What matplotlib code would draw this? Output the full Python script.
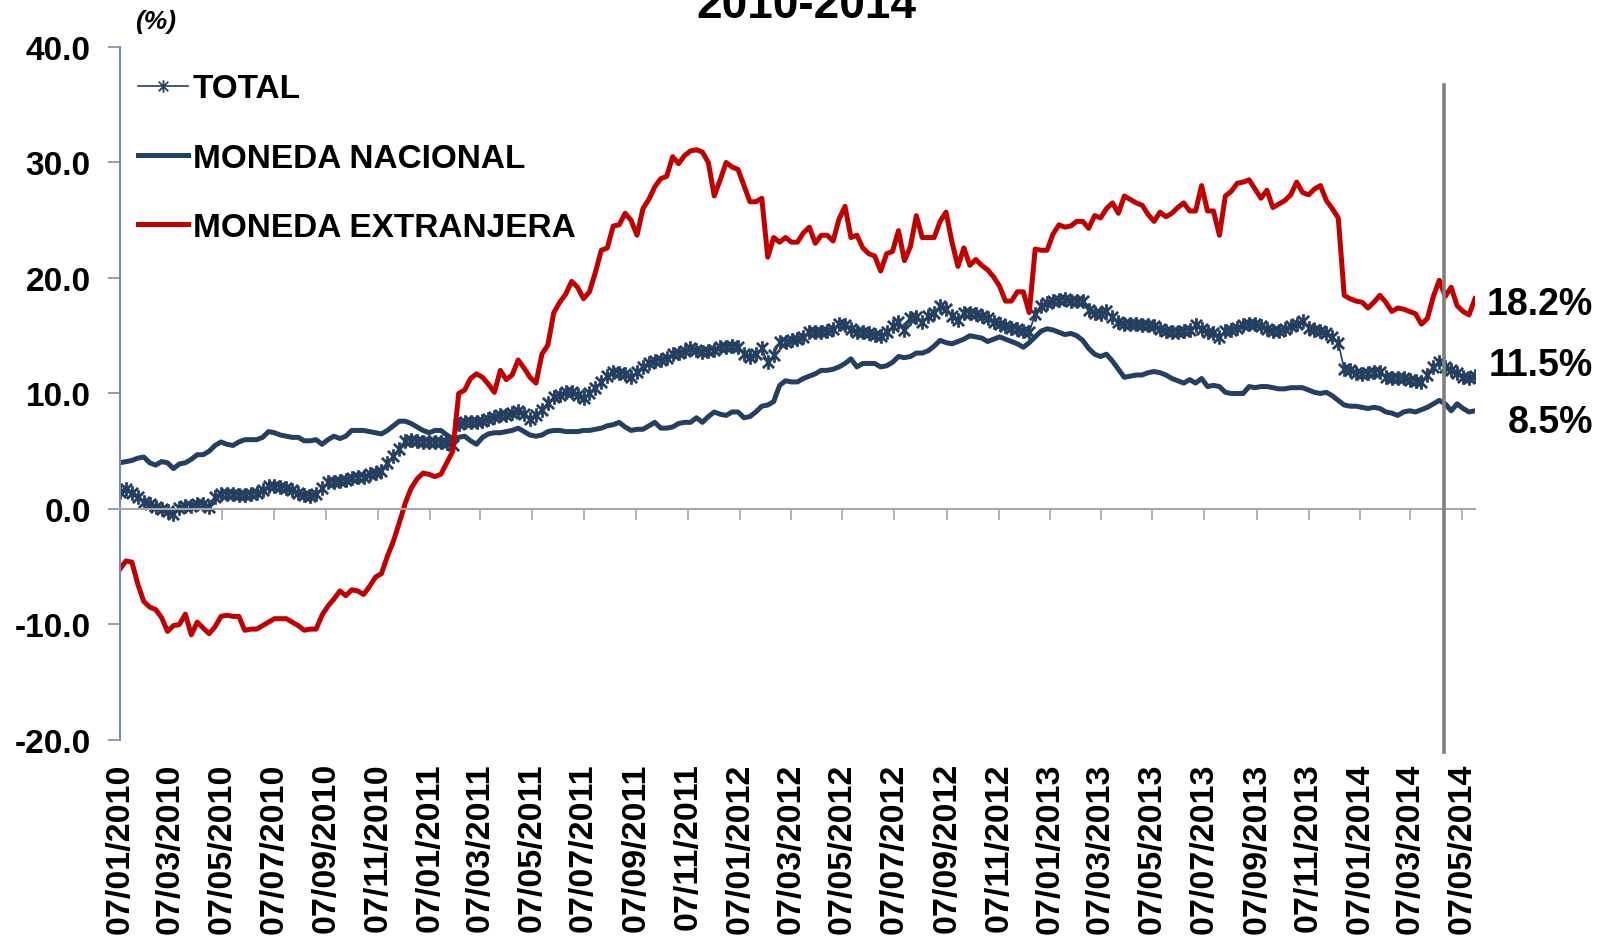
import numpy as np
import pandas as pd
import matplotlib
matplotlib.use("Agg")
import matplotlib.pyplot as plt
import matplotlib.dates as mdates
from matplotlib.path import Path
from matplotlib.lines import Line2D

plt.rcParams['font.family'] = ['Liberation Sans', 'DejaVu Sans']
plt.rcParams['font.weight'] = 'bold'
plt.rcParams['axes.unicode_minus'] = False

# weekly series, 07/01/2010 .. 22/05/2014
fechas = pd.date_range('2010-01-07', periods=229, freq='7D')

total = [
    1.5, 1.7, 1.4, 1.0, 0.6, 0.4, 0.2, 0.0, -0.2, -0.4,
    0.1, 0.3, 0.3, 0.4, 0.4, 0.2, 1.0, 1.3, 1.3, 1.3,
    1.2, 1.2, 1.3, 1.4, 1.6, 2.0, 2.0, 1.9, 1.8, 1.6,
    1.4, 1.2, 1.1, 1.3, 1.8, 2.3, 2.3, 2.4, 2.5, 2.7,
    2.8, 2.8, 3.0, 3.1, 3.3, 4.0, 4.6, 5.2, 5.9, 6.0,
    5.9, 5.8, 5.8, 5.8, 5.8, 5.7, 5.5, 7.4, 7.5, 7.5,
    7.5, 7.6, 7.8, 8.0, 8.1, 8.1, 8.3, 8.5, 8.2, 7.8,
    8.1, 8.6, 9.2, 9.7, 9.9, 10.1, 10.1, 9.9, 9.6, 10.0,
    10.5, 11.0, 11.5, 11.9, 11.8, 11.7, 11.4, 11.9, 12.3, 12.6,
    12.8, 12.9, 13.1, 13.4, 13.5, 13.7, 13.9, 13.8, 13.6, 13.7,
    13.8, 14.0, 14.0, 14.1, 14.0, 13.4, 13.2, 13.4, 13.9, 12.7,
    13.3, 14.5, 14.5, 14.6, 14.7, 14.9, 15.3, 15.3, 15.3, 15.4,
    15.6, 16.0, 15.9, 15.6, 15.3, 15.3, 15.2, 15.1, 15.0, 15.3,
    15.8, 16.2, 15.5, 16.5, 16.6, 16.2, 16.7, 17.0, 17.6, 17.3,
    16.7, 16.4, 17.0, 17.0, 16.9, 16.7, 16.5, 16.2, 16.0, 15.8,
    15.7, 15.6, 15.4, 15.3, 16.9, 17.6, 17.8, 18.0, 18.1, 18.2,
    18.0, 18.0, 18.0, 17.2, 17.0, 16.9, 17.1, 16.6, 16.2, 16.0,
    16.0, 16.0, 15.9, 15.9, 15.8, 15.6, 15.4, 15.3, 15.3, 15.4,
    15.5, 15.9, 15.6, 15.3, 15.2, 14.9, 15.4, 15.5, 15.7, 15.9,
    16.0, 16.0, 15.8, 15.6, 15.4, 15.4, 15.6, 15.8, 16.0, 16.3,
    15.7, 15.5, 15.4, 15.2, 14.9, 14.4, 12.1, 12.0, 11.8, 11.7,
    11.8, 11.9, 11.9, 11.4, 11.3, 11.3, 11.3, 11.2, 11.1, 11.0,
    11.6, 12.3, 12.7, 12.3, 12.0, 11.8, 11.4, 11.3, 11.5,
]

nacional = [
    4.0, 4.1, 4.2, 4.4, 4.5, 4.0, 3.8, 4.1, 4.0, 3.5,
    3.9, 4.0, 4.3, 4.7, 4.7, 5.0, 5.5, 5.8, 5.6, 5.5,
    5.8, 6.0, 6.0, 6.0, 6.2, 6.7, 6.6, 6.4, 6.3, 6.2,
    6.2, 5.9, 5.9, 6.0, 5.6, 6.0, 6.3, 6.1, 6.3, 6.8,
    6.8, 6.8, 6.7, 6.6, 6.5, 6.8, 7.2, 7.6, 7.6, 7.4,
    7.1, 6.8, 6.6, 6.8, 6.8, 6.4, 6.1, 6.2, 6.3, 5.9,
    5.6, 6.2, 6.5, 6.6, 6.6, 6.7, 6.8, 7.0, 6.7, 6.4,
    6.3, 6.4, 6.7, 6.8, 6.8, 6.7, 6.7, 6.7, 6.8, 6.8,
    6.9, 7.0, 7.2, 7.3, 7.5, 7.1, 6.8, 6.9, 6.9, 7.2,
    7.5, 7.0, 7.0, 7.1, 7.4, 7.5, 7.5, 7.9, 7.5, 8.0,
    8.4, 8.2, 8.1, 8.4, 8.4, 7.9, 8.0, 8.4, 8.9, 9.0,
    9.3, 10.7, 11.1, 11.0, 11.0, 11.3, 11.5, 11.7, 12.0, 12.0,
    12.1, 12.3, 12.6, 13.0, 12.3, 12.6, 12.6, 12.6, 12.3, 12.4,
    12.7, 13.2, 13.1, 13.2, 13.5, 13.5, 13.7, 14.1, 14.6, 14.4,
    14.3, 14.5, 14.7, 15.0, 14.9, 14.8, 14.5, 14.7, 14.9, 14.7,
    14.5, 14.3, 14.0, 14.4, 14.9, 15.4, 15.6, 15.5, 15.3, 15.1,
    15.2, 15.0, 14.6, 13.9, 13.4, 13.2, 13.4, 12.8, 12.1, 11.4,
    11.5, 11.6, 11.6, 11.8, 11.9, 11.8, 11.6, 11.3, 11.1, 10.9,
    11.2, 10.9, 11.3, 10.6, 10.7, 10.6, 10.1, 10.0, 10.0, 10.0,
    10.6, 10.5, 10.6, 10.6, 10.5, 10.4, 10.4, 10.5, 10.5, 10.5,
    10.3, 10.1, 10.0, 10.1, 9.8, 9.4, 9.0, 8.9, 8.9, 8.8,
    8.7, 8.8, 8.7, 8.4, 8.3, 8.1, 8.4, 8.5, 8.4, 8.6,
    8.8, 9.1, 9.4, 9.1, 8.5, 9.1, 8.7, 8.4, 8.5,
]

extranjera = [
    -5.2, -4.5, -4.6, -6.5, -8.0, -8.5, -8.7, -9.4, -10.6, -10.1,
    -10.0, -9.1, -10.9, -9.8, -10.3, -10.8, -10.2, -9.3, -9.2, -9.3,
    -9.3, -10.5, -10.4, -10.4, -10.1, -9.8, -9.5, -9.5, -9.5, -9.8,
    -10.1, -10.5, -10.4, -10.4, -9.2, -8.4, -7.8, -7.1, -7.5, -7.0,
    -7.1, -7.4, -6.7, -5.9, -5.6, -4.1, -2.8, -1.2, 0.5, 1.8,
    2.6, 3.1, 3.0, 2.8, 3.0, 4.0, 5.0, 10.0, 10.3, 11.3,
    11.7, 11.4, 10.8, 10.1, 12.0, 11.2, 11.6, 12.9, 12.2, 11.4,
    10.9, 13.4, 14.2, 17.0, 17.9, 18.6, 19.7, 19.2, 18.2, 18.8,
    20.5, 22.4, 22.6, 24.5, 24.6, 25.6, 25.0, 23.7, 26.0, 26.8,
    27.9, 28.6, 28.8, 30.5, 29.9, 30.6, 31.0, 31.1, 30.9, 30.0,
    27.1, 28.5, 30.0, 29.6, 29.4, 28.0, 26.6, 26.6, 26.9, 21.8,
    23.5, 23.1, 23.5, 23.1, 23.1, 23.9, 24.4, 23.0, 23.7, 23.7,
    23.2, 25.1, 26.2, 23.5, 23.7, 22.6, 22.1, 21.9, 20.6, 22.1,
    22.3, 24.1, 21.5, 22.7, 25.4, 23.5, 23.5, 23.5, 24.9, 25.7,
    23.1, 21.0, 22.6, 21.1, 21.6, 21.1, 20.7, 20.1, 19.3, 18.0,
    18.0, 18.8, 18.8, 17.0, 22.5, 22.4, 22.4, 23.8, 24.6, 24.4,
    24.5, 24.9, 24.9, 24.3, 25.4, 25.2, 26.0, 26.5, 25.6, 27.1,
    26.8, 26.5, 26.3, 25.5, 24.9, 25.7, 25.3, 25.6, 26.1, 26.5,
    25.8, 25.8, 28.0, 25.8, 25.8, 23.7, 27.1, 27.5, 28.2, 28.3,
    28.5, 27.7, 26.9, 27.6, 26.1, 26.4, 26.7, 27.2, 28.3, 27.4,
    27.2, 27.7, 28.0, 26.7, 26.0, 25.2, 18.5, 18.2, 18.0, 17.9,
    17.4, 17.9, 18.5, 17.9, 17.1, 17.4, 17.3, 17.1, 16.9, 16.0,
    16.5, 18.4, 19.8, 18.4, 19.2, 17.6, 17.1, 16.8, 18.2,
]

ultimos = ['18.2%', '11.5%', '8.5%']
marca_fecha = pd.Timestamp('2014-04-15')

azul = '#243F60'
rojo = '#C00000'

# asterisk marker like the excel "star"
estrella = Path([(-1, -1), (1, 1), (-1, 1), (1, -1), (0, -1.3), (0, 1.3)],
                [Path.MOVETO, Path.LINETO, Path.MOVETO, Path.LINETO,
                 Path.MOVETO, Path.LINETO])

fig = plt.figure(figsize=(16.06, 9.37), dpi=100)
ax = fig.add_axes([0.0747, 0.2092, 0.8437, 0.7396])

ax.plot(fechas, nacional, color=azul, lw=3.6, solid_joinstyle='round')
ax.plot(fechas, total, color=azul, lw=1.2, marker=estrella, markersize=10.5,
        markeredgewidth=2.0, markeredgecolor=azul)
ax.plot(fechas, extranjera, color=rojo, lw=3.6, solid_joinstyle='round')

ax.axvline(marca_fecha, ymin=-0.017, ymax=0.945, color='#808080', lw=2.6,
           clip_on=False, zorder=5)

ax.set_ylim(-20, 40)
ax.set_xlim(pd.Timestamp('2010-01-07'), pd.Timestamp('2014-05-22'))
ax.set_yticks(np.arange(-20, 41, 10))
ax.yaxis.set_major_formatter(matplotlib.ticker.FormatStrFormatter('%.1f'))
ax.tick_params(axis='y', direction='out', length=9, width=1.2,
               color='#7A8CA8', labelsize=24, pad=12)

for s in ['top', 'right']:
    ax.spines[s].set_visible(False)
ax.spines['left'].set_color('#7A8CA8')
ax.spines['left'].set_linewidth(1.5)
ax.spines['bottom'].set_position(('data', 0))
ax.spines['bottom'].set_color('#A6A6A6')
ax.spines['bottom'].set_linewidth(1.5)

xt = pd.date_range('2010-01-01', '2014-05-01', freq='2MS') + pd.Timedelta(days=6)
ax.set_xticks(xt)
ax.tick_params(axis='x', direction='out', length=8, width=1.2,
               color='#A6A6A6', labelbottom=False)

sec = ax.secondary_xaxis('bottom')
sec.set_xticks(xt)
sec.xaxis.set_major_formatter(mdates.DateFormatter('%d/%m/%Y'))
sec.tick_params(length=0, labelsize=24.5, pad=16, labelrotation=90)
sec.spines['bottom'].set_visible(False)

h = [Line2D([], [], color=azul, lw=1.2, marker=estrella, markersize=9,
            markeredgewidth=1.3),
     Line2D([], [], color=azul, lw=3.6),
     Line2D([], [], color=rojo, lw=3.6)]
ax.legend(h, ['TOTAL', 'MONEDA NACIONAL', 'MONEDA EXTRANJERA'],
          loc='upper left', bbox_to_anchor=(0.013, 0.962), frameon=False,
          fontsize=24, handlelength=1.5, handletextpad=0.15,
          labelspacing=1.15, borderpad=0, borderaxespad=0)

for txt, yy in zip(ultimos, [0.6745, 0.6094, 0.5486]):
    fig.text(0.992, yy, txt, ha='right', va='center', fontsize=27,
             fontweight='bold')

fig.text(0.097, 0.9765, '(%)', ha='center', va='center', fontsize=19,
         fontstyle='italic', fontweight='bold')
fig.text(0.502, 0.981, '2010-2014', ha='center', va='baseline', fontsize=33,
         fontweight='bold')

fig.savefig('out.png', dpi=100)
